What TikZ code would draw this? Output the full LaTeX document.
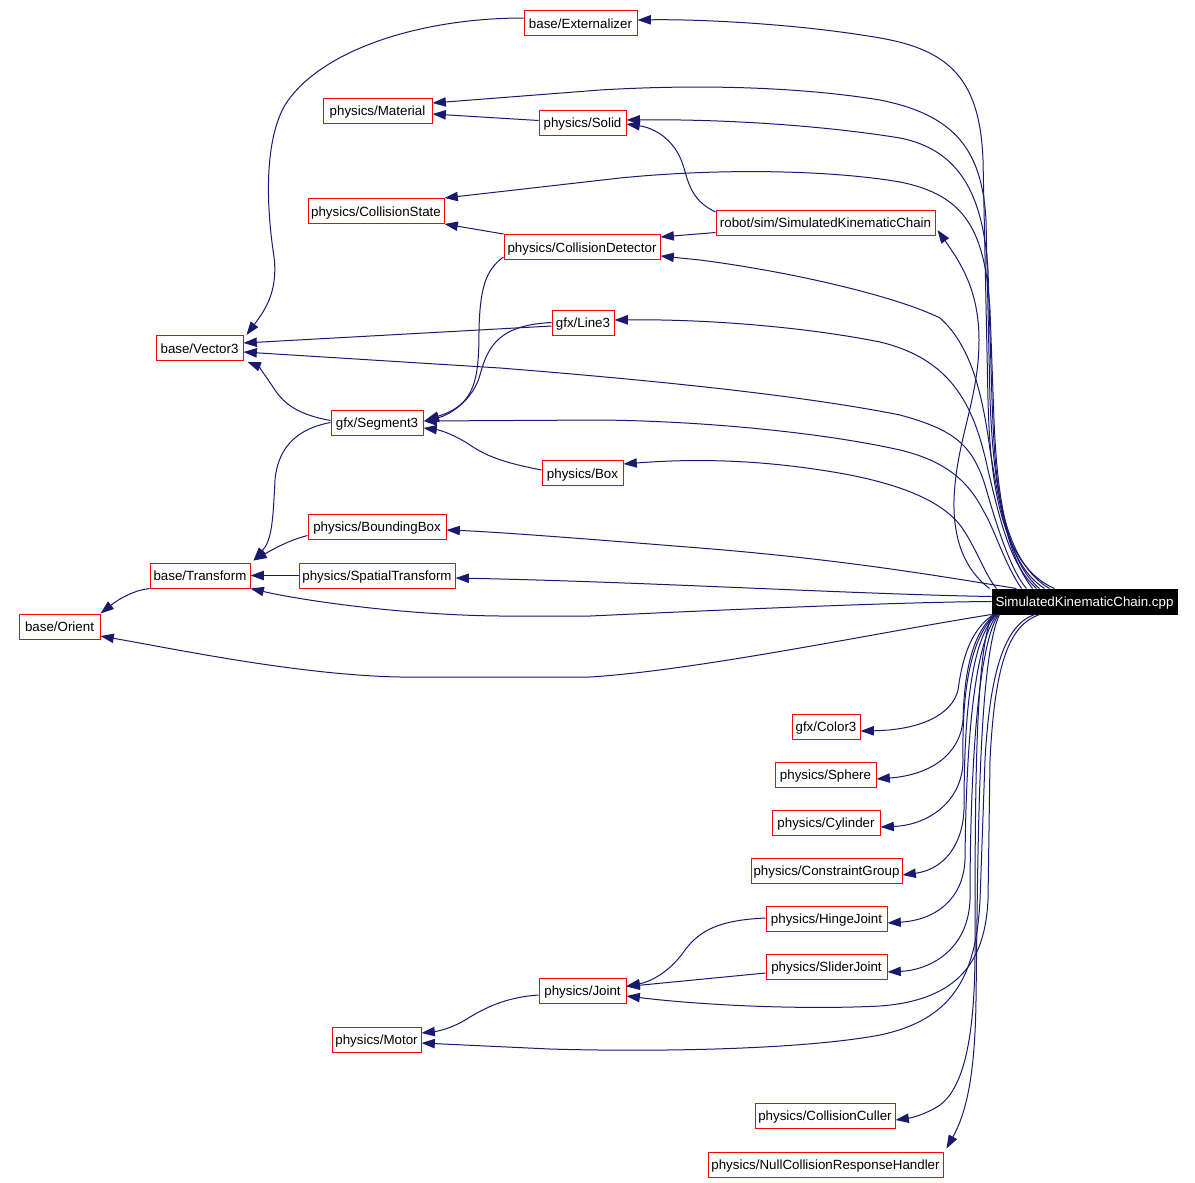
\documentclass[tikz,border=0pt]{standalone}
\usepackage{fontspec}
\setmainfont{Liberation Sans}
\usetikzlibrary{arrows.meta,calc}
\definecolor{mblue}{RGB}{25,25,112}
\begin{document}
\begin{tikzpicture}[x=0.75pt,y=-0.75pt,
  nd/.style={draw=red, line width=0.75pt, fill=white, font=\fontsize{10}{12}\selectfont,
    inner xsep=1pt, inner ysep=0pt, minimum height=18.75pt, text height=9pt, text depth=1.5pt},
  wd/.style={minimum width=#1*0.75pt},
  rootnd/.style={nd, draw=black, fill=black, text=white},
  edge/.style={draw=mblue, line width=0.75pt, -{Triangle[length=10pt,width=7pt]}}]
\fill[white] (0,0) rectangle (1195,1182);
\useasboundingbox (0,0) rectangle (1195,1182);

% nodes
\node[nd,wd=113] (ext) at (580.5,23) {base/Externalizer};
\node[nd,wd=109] (mat) at (377.5,110.5) {physics/Material};
\node[nd,wd=87]  (sol) at (582.5,122.5) {physics/Solid};
\node[nd,wd=136] (cst) at (376,211) {physics/CollisionState};
\node[nd,wd=156] (cdt) at (582,247) {physics/CollisionDetector};
\node[nd,wd=219] (rsk) at (825.5,222.5) {robot/sim/SimulatedKinematicChain};
\node[nd,wd=87]  (v3)  at (199.5,348) {base/Vector3};
\node[nd,wd=62]  (l3)  at (583,322.5) {gfx/Line3};
\node[nd,wd=92]  (s3)  at (377,422.5) {gfx/Segment3};
\node[nd,wd=81]  (box) at (582.5,473) {physics/Box};
\node[nd,wd=138] (bb)  at (377,526.5) {physics/BoundingBox};
\node[nd,wd=100] (tr)  at (200,575.5) {base/Transform};
\node[nd,wd=156] (st)  at (377,575.5) {physics/SpatialTransform};
\node[nd,wd=81]  (or)  at (59.5,626.5) {base/Orient};
\node[rootnd,wd=185] (root) at (1084.5,601.5) {SimulatedKinematicChain.cpp};
\node[nd,wd=68]  (c3)  at (826,726.5) {gfx/Color3};
\node[nd,wd=101] (sph) at (825.5,774.5) {physics/Sphere};
\node[nd,wd=108] (cyl) at (826,822.5) {physics/Cylinder};
\node[nd,wd=151] (cg)  at (826.5,870.5) {physics/ConstraintGroup};
\node[nd,wd=121] (hj)  at (826.5,918.5) {physics/HingeJoint};
\node[nd,wd=121] (sj)  at (826.5,966.5) {physics/SliderJoint};
\node[nd,wd=87]  (jt)  at (582.5,990.5) {physics/Joint};
\node[nd,wd=89]  (mot) at (376.5,1039.5) {physics/Motor};
\node[nd,wd=140] (cc)  at (825,1115.5) {physics/CollisionCuller};
\node[nd,wd=235] (ncr) at (825.5,1164.5) {physics/NullCollisionResponseHandler};

% edges from root (upwards)
\draw[edge] ($(root.north west)+(63,0)$) .. controls (1000,565) and (990,480) .. (988,400) -- (983,160)
  .. controls (980,80) and (950,50) .. (880,38) .. controls (800,24) and (700,19) .. ($(ext.east)+(0,-3)$);
\draw[edge] ($(root.north west)+(58,0)$) .. controls (1000,560) and (993,470) .. (990,400) -- (986,220)
  .. controls (982,150) and (955,115) .. (880,100) .. controls (800,87) and (700,84) .. (600,90) -- ($(mat.east)+(0,-7.5)$);
\draw[edge] ($(root.north west)+(53,0)$) .. controls (1000,560) and (995,480) .. (992,400) -- (988,270)
  .. controls (983,195) and (960,150) .. (900,138) .. controls (820,125) and (720,119) .. ($(sol.east)+(0,-2.5)$);
\draw[edge] ($(root.north west)+(48,0)$) .. controls (1005,560) and (997,490) .. (994,420) -- (990,310)
  .. controls (985,230) and (965,195) .. (900,182) .. controls (830,170) and (720,168) .. (620,178) -- (cst.north east);
\draw[edge] ($(root.north west)+(41,0)$) .. controls (1010,560) and (1000,510) .. (990,450)
  .. controls (982,390) and (970,345) .. (940,318) .. controls (900,298) and (800,273) .. (700,260) -- ($(cdt.east)+(0,9)$);
\draw[edge] ($(root.north west)+(-2,0)$) .. controls (965,570) and (953,540) .. (954,500)
  .. controls (956,440) and (979,400) .. (979,340) .. controls (979,290) and (960,262) .. ($(rsk.east)+(2,7.5)$);
\draw[edge] ($(root.north west)+(45,0)$) .. controls (1010,565) and (1000,520) .. (988,470)
  .. controls (975,410) and (955,360) .. (880,342) .. controls (800,326) and (700,319) .. ($(l3.east)+(0,-2.5)$);
\draw[edge] ($(root.north west)+(35,0)$) .. controls (1010,570) and (995,520) .. (985,485)
  .. controls (972,445) and (955,430) .. (900,415) .. controls (800,395) and (650,380) .. (500,368) -- ($(v3.east)+(0,4)$);
\draw[edge] ($(root.north west)+(30,0)$) .. controls (1005,565) and (995,530) .. (983,510)
  .. controls (970,485) and (950,462) .. (900,450) .. controls (820,432) and (700,421) .. (600,420) -- ($(s3.east)+(0,-1.5)$);
\draw[edge] ($(root.north west)+(5,0)$) .. controls (985,575) and (975,545) .. (960,525)
  .. controls (940,500) and (900,485) .. (850,475) .. controls (770,460) and (700,458) .. ($(box.east)+(0,-9)$);
\draw[edge] ($(root.north west)+(25,0)$) .. controls (950,578) and (850,560) .. (700,548)
  .. controls (600,540) and (500,532) .. ($(bb.east)+(0,3.5)$);
\draw[edge] ($(root.west)+(0,-5)$) .. controls (850,594) and (650,582) .. ($(st.east)+(0,2.5)$);
\draw[edge] (root.west) .. controls (900,602) and (720,610) .. (590,616) -- (500,616)
  .. controls (400,615) and (300,600) .. (tr.south east);
\draw[edge] (root.south west) .. controls (880,632) and (700,670) .. (590,677) -- (400,677)
  .. controls (300,675) and (180,650) .. ($(or.east)+(0,9.5)$);

% edges from root (downwards)
\draw[edge] ($(root.south west)+(2,0)$) .. controls (970,630) and (962,660) .. (958,690)
  .. controls (952,715) and (920,730) .. ($(c3.east)+(0,4.5)$);
\draw[edge] ($(root.south west)+(3,0)$) .. controls (970,635) and (964,680) .. (963,720)
  .. controls (960,755) and (930,775) .. ($(sph.east)+(0,4.5)$);
\draw[edge] ($(root.south west)+(4,0)$) .. controls (968,640) and (962,700) .. (963,760)
  .. controls (963,800) and (930,825) .. ($(cyl.east)+(0,4.5)$);
\draw[edge] ($(root.south west)+(5,0)$) .. controls (970,640) and (964,720) .. (964,810)
  .. controls (962,850) and (940,870) .. ($(cg.east)+(0,4.5)$);
\draw[edge] ($(root.south west)+(6,0)$) .. controls (972,645) and (966,760) .. (965,860)
  .. controls (963,900) and (935,920) .. ($(hj.east)+(0,4.5)$);
\draw[edge] ($(root.south west)+(7,0)$) .. controls (975,650) and (970,800) .. (970,900)
  .. controls (968,950) and (930,970) .. ($(sj.east)+(0,5.5)$);
\draw[edge] ($(root.south west)+(48,0)$) .. controls (1010,625) and (995,660) .. (990,760) -- (988,900)
  .. controls (985,960) and (960,1000) .. (880,1006) .. controls (800,1010) and (700,1005) .. ($(jt.east)+(0,5.5)$);
\draw[edge] ($(root.south west)+(43,0)$) .. controls (1005,625) and (990,670) .. (985,760) -- (980,900)
  .. controls (976,980) and (950,1020) .. (880,1035) .. controls (800,1050) and (650,1052) .. (550,1049) -- ($(mot.east)+(0,3.5)$);
\draw[edge] ($(root.south west)+(1,0)$) .. controls (975,650) and (975,800) .. (975,950)
  .. controls (975,1050) and (960,1090) .. (940,1105) .. controls (925,1115) and (910,1118) .. ($(cc.east)+(0,4.5)$);
\draw[edge] ($(root.south west)+(8,0)$) .. controls (978,660) and (978,850) .. (976,1000)
  .. controls (975,1080) and (965,1115) .. ($(ncr.north east)+(3,-3)$);

% other edges
\draw[edge] ($(ext.west)+(0,-5)$) .. controls (420,18) and (320,50) .. (285,105)
  .. controls (265,140) and (266,200) .. (273,250) .. controls (280,290) and (265,310) .. ($(v3.north east)+(3,0)$);
\draw[edge] ($(sol.west)+(0,-2)$) -- ($(mat.east)+(0,3.5)$);
\draw[edge] ($(rsk.west)+(0,-10.5)$) .. controls (690,200) and (688,180) .. (683,165)
  .. controls (675,140) and (655,128) .. ($(sol.east)+(0,1.5)$);
\draw[edge] ($(rsk.west)+(0,10)$) -- ($(cdt.north east)+(0,3)$);
\draw[edge] (cdt.north west) -- (cst.south east);
\draw[edge] ($(cdt.west)+(0,10)$) .. controls (485,270) and (480,290) .. (479,330)
  .. controls (479,380) and (475,405) .. ($(s3.east)+(2,-2.5)$);
\draw[edge] ($(l3.west)+(0,3.5)$) -- ($(v3.east)+(0,-5)$);
\draw[edge] (l3.west) .. controls (500,325) and (488,345) .. (480,375)
  .. controls (473,400) and (450,415) .. ($(s3.east)+(2,-2)$);
\draw[edge] ($(s3.west)+(0,-2)$) .. controls (300,415) and (285,405) .. (275,390)
  .. controls (265,375) and (258,366) .. ($(v3.south east)+(4,1)$);
\draw[edge] (s3.west) .. controls (300,428) and (278,445) .. (275,480)
  .. controls (273,520) and (272,540) .. ($(tr.north east)+(3,-2)$);
\draw[edge] ($(box.west)+(0,-3)$) .. controls (500,462) and (485,455) .. (470,445)
  .. controls (455,435) and (440,430) .. ($(s3.east)+(0,5.5)$);
\draw[edge] ($(bb.west)+(0,9)$) .. controls (290,540) and (275,548) .. ($(tr.north east)+(3,-2)$);
\draw[edge] (st.west) -- (tr.east);
\draw[edge] (tr.south west) .. controls (135,590) and (120,598) .. (or.north east);
\draw[edge] ($(hj.west)+(0,-0.5)$) .. controls (720,920) and (700,930) .. (685,950)
  .. controls (670,972) and (650,982) .. ($(jt.east)+(0,-4.5)$);
\draw[edge] ($(sj.west)+(0,6.5)$) -- ($(jt.east)+(0,-4)$);
\draw[edge] ($(jt.west)+(0,4.5)$) .. controls (510,997) and (490,1005) .. (470,1017)
  .. controls (455,1027) and (440,1031) .. ($(mot.east)+(0,-6.5)$);
\end{tikzpicture}
\end{document}
